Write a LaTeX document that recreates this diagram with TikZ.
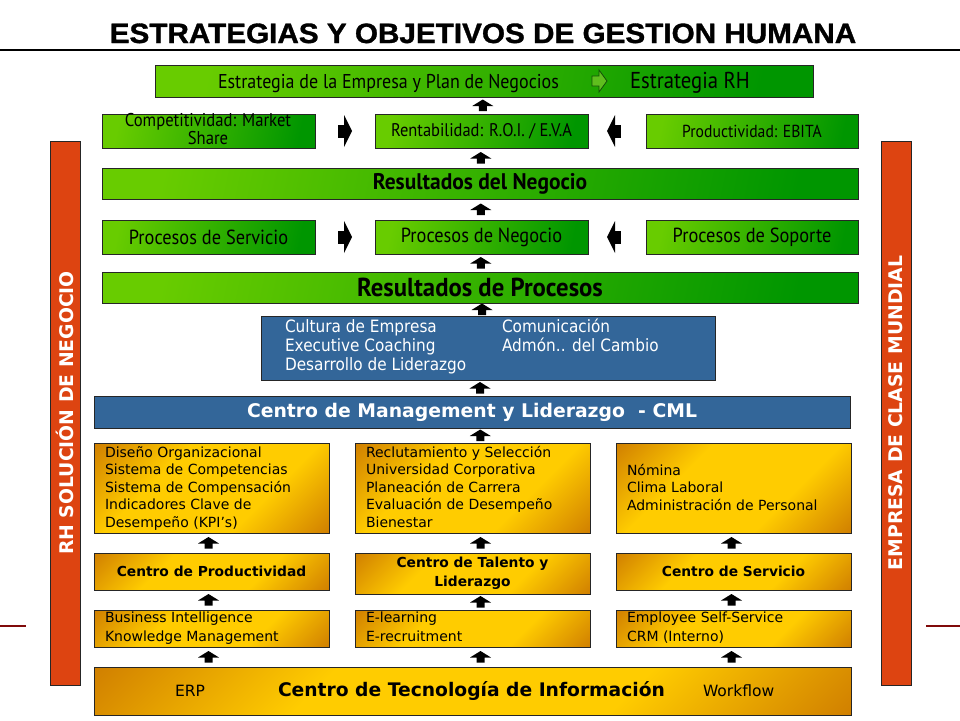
\documentclass[tikz,border=0pt]{standalone}
\usepackage{fontspec}
\setmainfont{DejaVu Sans}
\newfontfamily\titlefont[FakeStretch=1.06,FakeBold=1.2]{Liberation Sans}
\newfontfamily\gfont[FakeStretch=0.9]{PT Sans}
\newfontfamily\gfontb[FakeStretch=0.95]{PT Sans}
\newfontfamily\bfont[FakeStretch=0.9]{DejaVu Sans}
\usetikzlibrary{calc}
\definecolor{gL}{RGB}{104,204,0}
\definecolor{gD}{RGB}{0,150,0}
\definecolor{gHollow}{RGB}{95,190,30}
\definecolor{gEdge}{RGB}{20,80,10}
\definecolor{blueC}{RGB}{51,102,153}
\definecolor{barC}{RGB}{221,68,17}
\definecolor{goldL}{RGB}{255,204,0}
\definecolor{goldD}{RGB}{205,122,0}
\definecolor{redL}{RGB}{128,10,10}
\pgfdeclarehorizontalshading{greensh}{100bp}{color(0bp)=(gL); color(25bp)=(gL); color(75bp)=(gD); color(100bp)=(gD)}
\pgfdeclarehorizontalshading{goldsh}{100bp}{color(0bp)=(goldD); color(13bp)=(goldD); color(36bp)=(goldL); color(64bp)=(goldL); color(87bp)=(goldD); color(100bp)=(goldD)}
\newcommand\FS[2]{\fontsize{#1}{#2}\selectfont}
\begin{document}
\begin{tikzpicture}[x=1pt,y=-1pt,
  box/.style={anchor=north west, inner sep=0pt, outer sep=0pt, line width=0.8pt},
  greenbox/.style={box, draw=black!85, shade, shading=greensh, shading angle=-12},
  bluebox/.style={box, draw=black!85, fill=blueC},
  goldbox/.style={box, draw=black!85, shade, shading=goldsh, shading angle=-45},
  barbox/.style={box, draw=black!85, fill=barC},
  txt/.style={inner sep=0pt, outer sep=0pt},
  prow/.style={font=\gfont\FS{20.4}{20.4}},
  goldtxt/.style={txt, anchor=base west, font=\FS{14}{17.5}},
  bluetxt/.style={txt, anchor=base west, text=white, font=\bfont\FS{17}{19}},
  bartxt/.style={txt, rotate=90, text=white, font=\bfseries\FS{18.8}{18.8}},
  redline/.style={draw=redL, line width=2.2pt},
  uparr/.pic={\fill[black] (0,-6) -- (10.5,0.5) -- (4,0.5) -- (4,5.5) -- (-4,5.5) -- (-4,0.5) -- (-10.5,0.5) -- cycle;},
  rarr/.pic={\fill[black] (-7,-6.5) rectangle (-1,6.5); \fill[black] (-1,-16) -- (7,0) -- (-1,16) -- cycle;},
  larr/.pic={\fill[black] (7,-6.5) rectangle (1,6.5); \fill[black] (1,-16) -- (-7,0) -- (1,16) -- cycle;}
]
\fill[white] (0,0) rectangle (960,720);
\useasboundingbox (0,0) rectangle (960,720);

% title
\node[txt, anchor=base, font=\titlefont\bfseries\FS{28}{28}] (title) at (483,43) {ESTRATEGIAS Y OBJETIVOS DE GESTION HUMANA};
\coordinate (ruleL) at (0,50);
\coordinate (ruleR) at (960,50);
\draw[line width=1.2pt] (ruleL) -- (ruleR);

% top strategy box
\node[greenbox, minimum width=658pt, minimum height=32pt] (strat) at (155,65) {};
\node[txt, anchor=base west, font=\gfont\FS{20}{20}] (stratA) at (218,88) {Estrategia de la Empresa y Plan de Negocios};
\coordinate (ha) at (599,81);
\begin{scope}[shift={(ha)}]
\filldraw[fill=gHollow, draw=gEdge, line width=0.8pt] (-7,-5) -- (0,-5) -- (0,-11) -- (8,0) -- (0,11) -- (0,5) -- (-7,5) -- cycle;
\end{scope}
\node[txt, anchor=base west, font=\gfont\FS{23}{23}] (stratB) at (630,88) {Estrategia RH};

% row 2
\node[greenbox, minimum width=213pt, minimum height=34pt] (comp) at (102,114) {};
\node[txt, align=center, font=\gfont\FS{18.5}{16.5}] (compT) at (208,129) {Competitividad: Market\\Share};
\node[greenbox, font=\gfont\FS{18.3}{18.3}, minimum width=213pt, minimum height=34pt] (rent) at (375,114) {Rentabilidad: R.O.I. / E.V.A};
\node[greenbox, font=\gfont\FS{17.4}{17.4}, minimum width=212pt, minimum height=34pt] (ebita) at (646,114) {Productividad: EBITA};

% resultados del negocio
\node[greenbox, minimum width=756pt, minimum height=31pt, font=\gfontb\bfseries\FS{22.6}{22.6}] (resneg) at (102,168) {Resultados del Negocio};

% row 4
\node[greenbox, prow, minimum width=213pt, minimum height=34pt] (serv) at (102,220) {Procesos de Servicio};
\node[greenbox, prow, minimum width=213pt, minimum height=34pt] (pneg) at (375,220) {Procesos de Negocio};
\node[greenbox, prow, minimum width=212pt, minimum height=34pt] (sop) at (646,220) {Procesos de Soporte};

% resultados de procesos
\node[greenbox, minimum width=756pt, minimum height=31pt, font=\gfontb\bfseries\FS{26}{26}] (resproc) at (102,272) {Resultados de Procesos};

% culture box
\node[bluebox, minimum width=454pt, minimum height=64pt] (cult) at (261,316) {};
\node[bluetxt] (cult1) at (285,332) {Cultura de Empresa};
\node[bluetxt] (cult2) at (285,351) {Executive Coaching};
\node[bluetxt] (cult3) at (285,370) {Desarrollo de Liderazgo};
\node[bluetxt] (cult4) at (502,332) {Comunicación};
\node[bluetxt] (cult5) at (502,351) {Admón.. del Cambio};

% CML
\node[bluebox, minimum width=756pt, minimum height=32pt, text=white, font=\bfseries\FS{18.8}{18.8}] (cml) at (94,396) {Centro de Management y Liderazgo\ \ - CML};

% gold detail boxes
\node[goldbox, minimum width=235pt, minimum height=90pt] (g1) at (94,443) {};
\node[goldbox, minimum width=235pt, minimum height=90pt] (g2) at (355,443) {};
\node[goldbox, minimum width=235pt, minimum height=90pt] (g3) at (616,443) {};
\foreach \t [count=\i] in {Diseño Organizacional, Sistema de Competencias, Sistema de Compensación, Indicadores Clave de, Desempeño (KPI’s)}
  \node[goldtxt] (g1l\i) at (105,{457+17.5*(\i-1)}) {\t};
\foreach \t [count=\i] in {Reclutamiento y Selección, Universidad Corporativa, Planeación de Carrera, Evaluación de Desempeño, Bienestar}
  \node[goldtxt] (g2l\i) at (366,{457+17.5*(\i-1)}) {\t};
\foreach \t [count=\i] in {Nómina, Clima Laboral, Administración de Personal}
  \node[goldtxt] (g3l\i) at (627,{475+17.5*(\i-1)}) {\t};

% centers
\node[goldbox, minimum width=235pt, minimum height=37pt, font=\bfseries\FS{13.8}{13.8}] (c1) at (94,553) {Centro de Productividad};
\node[goldbox, minimum width=235pt, minimum height=41pt, font=\bfseries\FS{13.8}{19}, align=center] (c2) at (355,553) {Centro de Talento y\\Liderazgo};
\node[goldbox, minimum width=235pt, minimum height=37pt, font=\bfseries\FS{13.8}{13.8}] (c3) at (616,553) {Centro de Servicio};

% technology rows
\node[goldbox, minimum width=235pt, minimum height=37pt] (t1) at (94,610) {};
\node[goldbox, minimum width=235pt, minimum height=37pt] (t2) at (355,610) {};
\node[goldbox, minimum width=235pt, minimum height=37pt] (t3) at (616,610) {};
\node[goldtxt] (t1a) at (105,622) {Business Intelligence};
\node[goldtxt] (t1b) at (105,641) {Knowledge Management};
\node[goldtxt] (t2a) at (366,622) {E-learning};
\node[goldtxt] (t2b) at (366,641) {E-recruitment};
\node[goldtxt] (t3a) at (627,622) {Employee Self-Service};
\node[goldtxt] (t3b) at (627,641) {CRM (Interno)};

% bottom
\node[goldbox, minimum width=757pt, minimum height=48pt] (cti) at (94,667) {};
\node[txt, anchor=base west, font=\FS{15.5}{15.5}] (erp) at (175,696) {ERP};
\node[txt, anchor=base west, font=\bfseries\FS{18.7}{18.7}] (ctiT) at (278,696) {Centro de Tecnología de Información};
\node[txt, anchor=base west, font=\FS{15.5}{15.5}] (wf) at (703,696) {Workflow};

% side bars
\node[barbox, minimum width=30pt, minimum height=544pt] (lbar) at (50,141) {};
\node[bartxt] (lbarT) at (lbar.center) {RH SOLUCIÓN DE NEGOCIO};
\node[barbox, minimum width=30pt, minimum height=544pt] (rbar) at (881,141) {};
\node[bartxt] (rbarT) at (rbar.center) {EMPRESA DE CLASE MUNDIAL};

\coordinate (rlA) at (0,626); \coordinate (rlB) at (26,626);
\coordinate (rrA) at (926,626); \coordinate (rrB) at (960,626);
\draw[redline] (rlA) -- (rlB);
\draw[redline] (rrA) -- (rrB);

% up arrows
\pic at ($(rent.north)!.5!(strat.south)$) {uparr};
\pic at ($(resneg.north)!.5!(rent.south)$) {uparr};
\pic at ($(pneg.north)!.5!(resneg.south)$) {uparr};
\pic at ($(resproc.north)!.5!(pneg.south)$) {uparr};
\pic at ($(cult.north)!.5!(resproc.south)+(-2,0)$) {uparr};
\pic at ($(cml.north)!.5!(cult.south)$) {uparr};
\pic at ($(g2.north)!.5!(cml.south)+(8,0)$) {uparr};
\pic at ($(c1.north)!.5!(g1.south)+(-3,0)$) {uparr};
\pic at ($(c2.north)!.5!(g2.south)+(8,0)$) {uparr};
\pic at ($(c3.north)!.5!(g3.south)+(-2,0)$) {uparr};
\pic at ($(t1.north)!.5!(c1.south)+(-3,0)$) {uparr};
\pic at ($(t2.north)!.5!(c2.south)+(8,0)$) {uparr};
\pic at ($(t3.north)!.5!(c3.south)+(-2,0)$) {uparr};
\pic at ($(cti.north -| t1.north)!.5!(t1.south)+(-3,0)$) {uparr};
\pic at ($(cti.north -| t2.north)!.5!(t2.south)+(8,0)$) {uparr};
\pic at ($(cti.north -| t3.north)!.5!(t3.south)+(-2,0)$) {uparr};

% side arrows
\pic at ($(comp.east)!.5!(rent.west)$) {rarr};
\pic at ($(rent.east)!.5!(ebita.west)+(-3,0)$) {larr};
\pic at ($(serv.east)!.5!(pneg.west)$) {rarr};
\pic at ($(pneg.east)!.5!(sop.west)+(-3,0)$) {larr};
\end{tikzpicture}
\end{document}
